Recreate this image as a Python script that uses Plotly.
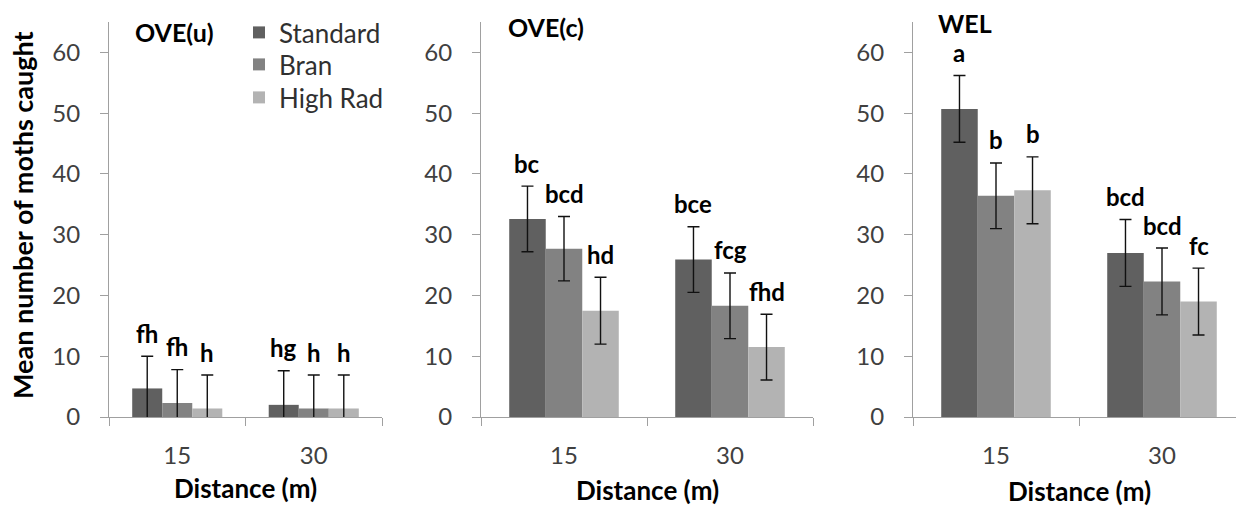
import plotly.graph_objects as go

# ---------------- data ----------------
distances = ["15", "30"]
series = ["Standard", "Bran", "High Rad"]
panels = ["OVE(u)", "OVE(c)", "WEL"]

# mean values per panel, per series: [15 m, 30 m]
ove_u_standard = [4.7, 2.0]
ove_u_bran = [2.3, 1.4]
ove_u_highrad = [1.4, 1.4]
ove_u_err_standard = [5.3, 5.6]
ove_u_err_bran = [5.5, 5.5]
ove_u_err_highrad = [5.5, 5.5]
ove_u_letters_standard = ["fh", "hg"]
ove_u_letters_bran = ["fh", "h"]
ove_u_letters_highrad = ["h", "h"]

ove_c_standard = [32.6, 25.9]
ove_c_bran = [27.7, 18.3]
ove_c_highrad = [17.5, 11.5]
ove_c_err_standard = [5.4, 5.4]
ove_c_err_bran = [5.3, 5.4]
ove_c_err_highrad = [5.5, 5.4]
ove_c_letters_standard = ["bc", "bce"]
ove_c_letters_bran = ["bcd", "fcg"]
ove_c_letters_highrad = ["hd", "fhd"]

wel_standard = [50.7, 27.0]
wel_bran = [36.4, 22.3]
wel_highrad = [37.3, 19.0]
wel_err_standard = [5.5, 5.5]
wel_err_bran = [5.4, 5.5]
wel_err_highrad = [5.5, 5.5]
wel_letters_standard = ["a", "bcd"]
wel_letters_bran = ["b", "bcd"]
wel_letters_highrad = ["b", "fc"]

y_ticks = [0, 10, 20, 30, 40, 50, 60]

# ---------------- style ----------------
W, H = 1236, 509
colors = ["#606060", "#828282", "#b3b3b3"]
axis_color = "#a0a0a0"
text_color = "#404040"
FONT = "Lato"
BARGAP = 0.34

panel_values = [
    [ove_u_standard, ove_u_bran, ove_u_highrad],
    [ove_c_standard, ove_c_bran, ove_c_highrad],
    [wel_standard, wel_bran, wel_highrad],
]
panel_errors = [
    [ove_u_err_standard, ove_u_err_bran, ove_u_err_highrad],
    [ove_c_err_standard, ove_c_err_bran, ove_c_err_highrad],
    [wel_err_standard, wel_err_bran, wel_err_highrad],
]
panel_letters = [
    [ove_u_letters_standard, ove_u_letters_bran, ove_u_letters_highrad],
    [ove_c_letters_standard, ove_c_letters_bran, ove_c_letters_highrad],
    [wel_letters_standard, wel_letters_bran, wel_letters_highrad],
]

# layout geometry (pixels)
x_domains_px = [(109, 382), (481, 813), (913, 1236)]
x_ranges = [[-0.5, 1.5], [-0.5, 1.5], [-0.5, -0.5 + (1236 - 913) / 166.0]]
y_top_px, y_bot_px = 22, 417
title_pos_px = [(133, 32), (506, 27), (936, 23)]
xtitle_y_px = [488, 490, 491]
legend_x_px = 239
legend_row_top_px = [9, 41, 74]


def px_x(p):
    return p / W


def px_y(p):
    return (H - p) / H


fig = go.Figure()
annotations = []
n_series = len(series)
bar_w = (1 - BARGAP) / n_series
legend_names = ["legend", "legend2", "legend3"]

for pi in range(3):
    suffix = "" if pi == 0 else str(pi + 1)
    xa, ya = "x" + suffix, "y" + suffix
    for si in range(n_series):
        vals = panel_values[pi][si]
        errs = panel_errors[pi][si]
        fig.add_trace(go.Bar(
            x=distances, y=vals, name=series[si],
            marker=dict(color=colors[si], line=dict(width=0)),
            error_y=dict(type="data", array=errs, symmetric=True,
                         color="#111111", thickness=1.4, width=6),
            xaxis=xa, yaxis=ya, showlegend=(pi == 0),
            legend=legend_names[si],
        ))
        for ci, lab in enumerate(panel_letters[pi][si]):
            xc = ci + (si - (n_series - 1) / 2) * bar_w
            annotations.append(dict(
                x=xc, y=vals[ci] + errs[ci], xref=xa, yref=ya,
                text="<b>%s</b>" % lab, showarrow=False, yanchor="middle",
                yshift=23, font=dict(family=FONT, size=24, color="#000000")))

    dom = [px_x(x_domains_px[pi][0]), px_x(x_domains_px[pi][1])]
    fig.update_layout(**{
        ("xaxis" + suffix): dict(
            domain=dom, anchor=ya, type="category", range=x_ranges[pi],
            showline=True, linecolor=axis_color, linewidth=1.2,
            ticks="outside", tickson="boundaries", ticklen=8,
            tickcolor=axis_color, tickwidth=1.2, showgrid=False,
            ticklabelstandoff=17, automargin=False,
            tickfont=dict(family=FONT, size=24, color=text_color)),
        ("yaxis" + suffix): dict(
            domain=[px_y(y_bot_px), px_y(y_top_px)], anchor=xa,
            range=[0, 65], tickvals=y_ticks,
            showline=True, linecolor=axis_color, linewidth=1.2,
            ticks="outside", ticklen=8, tickcolor=axis_color, tickwidth=1.2,
            showgrid=False, zeroline=False, ticklabelstandoff=15,
            automargin=False,
            tickfont=dict(family=FONT, size=24, color=text_color)),
    })
    # panel title
    annotations.append(dict(
        x=px_x(title_pos_px[pi][0]), y=px_y(title_pos_px[pi][1]),
        xref="paper", yref="paper", xanchor="left", yanchor="middle",
        text="<b>%s</b>" % panels[pi], showarrow=False,
        font=dict(family=FONT, size=25, color="#000000")))
    # x-axis title
    annotations.append(dict(
        x=0.5, y=px_y(xtitle_y_px[pi]), xref=xa, yref="paper",
        xanchor="center", yanchor="middle", text="<b>Distance (m)</b>",
        showarrow=False, font=dict(family=FONT, size=26, color="#000000")))

# y-axis title
annotations.append(dict(
    x=px_x(23), y=px_y(215), xref="paper", yref="paper",
    xanchor="center", yanchor="middle", textangle=-90,
    text="<b>Mean number of moths caught</b>", showarrow=False,
    font=dict(family=FONT, size=27, color="#000000")))

legend_common = dict(xanchor="left", yanchor="top", bgcolor="rgba(0,0,0,0)",
                     font=dict(family=FONT, size=26, color="#303030"))
legends = {}
for li, lname in enumerate(legend_names):
    legends[lname] = dict(x=px_x(legend_x_px), y=px_y(legend_row_top_px[li]),
                          **legend_common)

fig.update_layout(
    width=W, height=H,
    margin=dict(l=0, r=0, t=0, b=0, autoexpand=False),
    paper_bgcolor="white", plot_bgcolor="white",
    barmode="group", bargap=BARGAP, bargroupgap=0,
    annotations=annotations,
    showlegend=True,
    font=dict(family=FONT),
    **legends,
)

fig.write_html("out.html")
